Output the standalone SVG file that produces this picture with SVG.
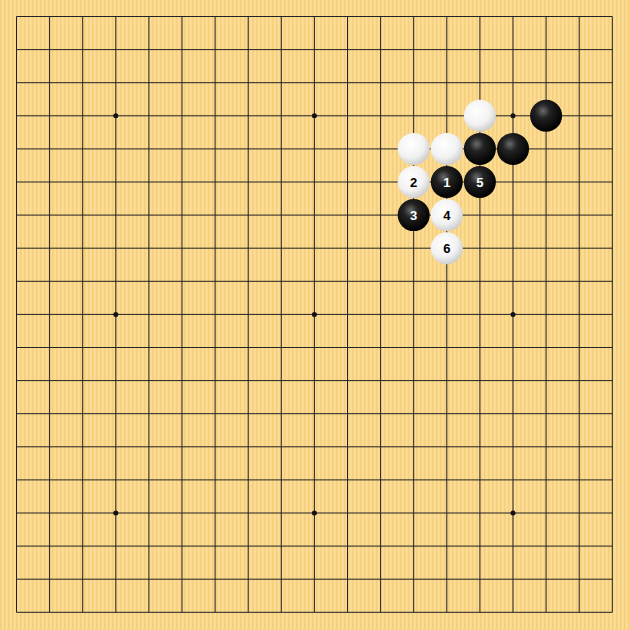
<svg xmlns="http://www.w3.org/2000/svg" width="630" height="630" viewBox="0 0 630 630">
<defs>
<pattern id="wood" width="4" height="10" patternUnits="userSpaceOnUse">
<rect width="4" height="10" fill="#fbd98c"/>
<rect x="0" width="1.5" height="10" fill="#f6cf7e"/>
<rect x="2.5" width="0.8" height="10" fill="#fde2a0"/>
</pattern>
<radialGradient id="bg" cx="0.4" cy="0.35" r="0.65">
<stop offset="0" stop-color="#6a6a6a"/>
<stop offset="0.35" stop-color="#222"/>
<stop offset="1" stop-color="#000"/>
</radialGradient>
<radialGradient id="wg" cx="0.4" cy="0.35" r="0.7">
<stop offset="0" stop-color="#ffffff"/>
<stop offset="0.6" stop-color="#f2f2f2"/>
<stop offset="1" stop-color="#c8c8c8"/>
</radialGradient>
</defs>
<style>
.ln{stroke:#222;stroke-width:1;fill:none}
.b{fill:url(#bg)}
.w{fill:url(#wg)}
.tb{font-family:"Liberation Sans",Arial,sans-serif;font-weight:bold;font-size:13px;fill:#fff;text-anchor:middle}
.tw{font-family:"Liberation Sans",Arial,sans-serif;font-weight:bold;font-size:13px;fill:#000;text-anchor:middle}
</style>
<rect width="630" height="630" fill="url(#wood)"/>
<g id="grid">
<path class="ln" d="M16.5 16.5V612.3M49.6 16.5V612.3M82.7 16.5V612.3M115.8 16.5V612.3M148.9 16.5V612.3M182 16.5V612.3M215.1 16.5V612.3M248.2 16.5V612.3M281.3 16.5V612.3M314.4 16.5V612.3M347.5 16.5V612.3M380.6 16.5V612.3M413.7 16.5V612.3M446.8 16.5V612.3M479.9 16.5V612.3M513 16.5V612.3M546.1 16.5V612.3M579.2 16.5V612.3M612.3 16.5V612.3"/>
<path class="ln" d="M16.5 16.5H612.3M16.5 49.6H612.3M16.5 82.7H612.3M16.5 115.8H612.3M16.5 148.9H612.3M16.5 182H612.3M16.5 215.1H612.3M16.5 248.2H612.3M16.5 281.3H612.3M16.5 314.4H612.3M16.5 347.5H612.3M16.5 380.6H612.3M16.5 413.7H612.3M16.5 446.8H612.3M16.5 479.9H612.3M16.5 513H612.3M16.5 546.1H612.3M16.5 579.2H612.3M16.5 612.3H612.3"/>
<g fill="#111">
<circle cx="115.8" cy="115.8" r="2.5"/><circle cx="314.4" cy="115.8" r="2.5"/><circle cx="513" cy="115.8" r="2.5"/>
<circle cx="115.8" cy="314.4" r="2.5"/><circle cx="314.4" cy="314.4" r="2.5"/><circle cx="513" cy="314.4" r="2.5"/>
<circle cx="115.8" cy="513" r="2.5"/><circle cx="314.4" cy="513" r="2.5"/><circle cx="513" cy="513" r="2.5"/>
</g>
</g>
<g id="stones">
<g id="w-p14-3"><circle class="w" cx="479.9" cy="115.8" r="16"/></g>
<g id="b-p16-3"><circle class="b" cx="546.1" cy="115.8" r="16"/></g>
<g id="w-p12-4"><circle class="w" cx="413.7" cy="148.9" r="16"/></g>
<g id="w-p13-4"><circle class="w" cx="446.8" cy="148.9" r="16"/></g>
<g id="b-p14-4"><circle class="b" cx="479.9" cy="148.9" r="16"/></g>
<g id="b-p15-4"><circle class="b" cx="513" cy="148.9" r="16"/></g>
<g id="m2"><circle class="w" cx="413.7" cy="182" r="16"/><text class="tw" x="413.7" y="186.6">2</text></g>
<g id="m1"><circle class="b" cx="446.8" cy="182" r="16"/><text class="tb" x="446.8" y="186.6">1</text></g>
<g id="m5"><circle class="b" cx="479.9" cy="182" r="16"/><text class="tb" x="479.9" y="186.6">5</text></g>
<g id="m3"><circle class="b" cx="413.7" cy="215.1" r="16"/><text class="tb" x="413.7" y="219.7">3</text></g>
<g id="m4"><circle class="w" cx="446.8" cy="215.1" r="16"/><text class="tw" x="446.8" y="219.7">4</text></g>
<g id="m6"><circle class="w" cx="446.8" cy="248.2" r="16"/><text class="tw" x="446.8" y="252.8">6</text></g>
</g>
</svg>
